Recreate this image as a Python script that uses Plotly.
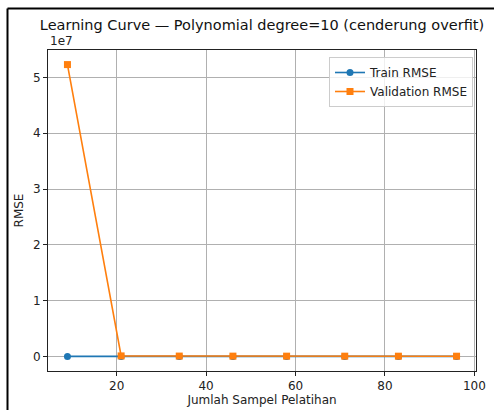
import plotly.graph_objects as go

n_samples = [9, 21, 34, 46, 58, 71, 83, 96]
train_rmse = [1.0e3, 2.0e3, 2.4e3, 2.6e3, 2.8e3, 2.9e3, 3.0e3, 3.1e3]
val_rmse = [5.23e7, 9.0e4, 6.0e4, 5.0e4, 4.5e4, 4.2e4, 4.0e4, 3.8e4]
y_tickvals = [0, 1e7, 2e7, 3e7, 4e7, 5e7]
y_ticktext = ["0", "1", "2", "3", "4", "5"]
x_tickvals = [20, 40, 60, 80, 100]

W, H = 494, 410
L, R, T, B = 48, 18, 50, 39
pw, ph = W - L - R, H - T - B

def px2x(px):
    return (px - L) / pw

def py2y(py):
    return (H - B - py) / ph

font = "DejaVu Sans"
fig = go.Figure()
fig.add_trace(go.Scatter(x=n_samples, y=train_rmse, name="Train RMSE", mode="lines+markers",
                         line=dict(color="#1f77b4", width=1.6),
                         marker=dict(symbol="circle", size=7, color="#1f77b4")))
fig.add_trace(go.Scatter(x=n_samples, y=val_rmse, name="Validation RMSE", mode="lines+markers",
                         line=dict(color="#ff7f0e", width=1.6),
                         marker=dict(symbol="square", size=7, color="#ff7f0e")))

xmin, xmax = min(n_samples), max(n_samples)
ymax = max(val_rmse)
xpad = 0.05 * (xmax - xmin)
ypad = 0.05 * ymax

axis_common = dict(showgrid=True, gridcolor="#b0b0b0", gridwidth=0.8, zeroline=False,
                   showline=True, linecolor="#222", linewidth=1, mirror=True,
                   ticks="outside", ticklen=4, tickcolor="#222", automargin=False,
                   tickfont=dict(family=font, size=12, color="#222"))

fig.update_layout(
    width=W, height=H, margin=dict(l=L, r=R, t=T, b=B, autoexpand=False),
    paper_bgcolor="white", plot_bgcolor="white",
    font=dict(family=font, size=12, color="#222"),
    title=dict(text="Learning Curve — Polynomial degree=10 (cenderung overfit)",
               x=px2x(262), xanchor="center", xref="paper", y=1 - 25 / H, yanchor="middle",
               font=dict(family=font, size=14.5, color="#111")),
    xaxis=dict(range=[xmin - xpad, xmax + xpad], tickvals=x_tickvals,
               title=dict(text="Jumlah Sampel Pelatihan", font=dict(size=12), standoff=3),
               **axis_common),
    yaxis=dict(range=[-ypad, ymax + ypad], tickvals=y_tickvals, ticktext=y_ticktext,
               title=dict(text="RMSE", font=dict(size=12), standoff=6),
               **axis_common),
    legend=dict(x=px2x(473), y=py2y(57), xanchor="right", yanchor="top",
                bgcolor="rgba(255,255,255,0.8)", bordercolor="#cccccc", borderwidth=1,
                font=dict(family=font, size=12, color="#222"), tracegroupgap=0),
    showlegend=True,
)

fig.add_annotation(text="1e7", xref="paper", yref="paper", x=0, y=1, xanchor="left",
                   yanchor="bottom", showarrow=False, font=dict(family=font, size=12, color="#222"),
                   yshift=0)

# screenshot frame
fig.add_shape(type="line", xref="paper", yref="paper", x0=px2x(7.5), x1=px2x(W),
              y0=py2y(8.5), y1=py2y(8.5), line=dict(color="black", width=2))
fig.add_shape(type="line", xref="paper", yref="paper", x0=px2x(7.5), x1=px2x(7.5),
              y0=py2y(8.5), y1=py2y(H), line=dict(color="black", width=2))

fig.write_html("out.html")
